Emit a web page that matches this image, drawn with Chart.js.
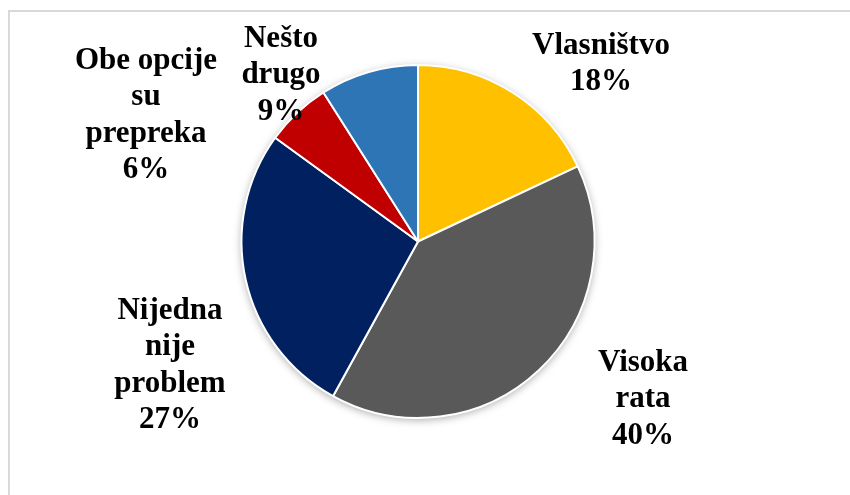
<!DOCTYPE html>
<html>
<head>
<meta charset="utf-8">
<script src="https://cdn.jsdelivr.net/npm/chart.js@4/dist/chart.umd.min.js"></script>
<style>
  body { margin: 0; background: #fff; }
  #wrap { position: relative; width: 850px; height: 495px; }
</style>
</head>
<body>
<div id="wrap"><canvas id="myChart"></canvas></div>
<script>
// data
var labels = ["Vlasništvo", "Visoka rata", "Nijedna nije problem", "Obe opcije su prepreka", "Nešto drugo"];
var values = [18, 40, 27, 6, 9];
var colors = ["#FFC000", "#595959", "#002060", "#C00000", "#2E75B6"];

// how each label is broken into lines
var labelLines = [
  ["Vlasništvo"],
  ["Visoka", "rata"],
  ["Nijedna", "nije", "problem"],
  ["Obe opcije", "su", "prepreka"],
  ["Nešto", "drugo"]
];
// where the first baseline of each label sits, relative to the pie centre
var labelOffsets = [[183, -188], [225, 129], [-248, 77], [-272, -173], [-137, -195]];
var lineGap = 36.5;

var total = values.reduce(function (a, b) { return a + b; }, 0);

var framePlugin = {
  id: "frame",
  beforeDraw: function (chart) {
    var ctx = chart.ctx;
    ctx.save();
    ctx.fillStyle = "#d9d9d9";
    ctx.fillRect(8, 10, chart.width - 8, 2);
    ctx.fillRect(8, 10, 2, chart.height - 10);
    ctx.restore();
  }
};

var shadowPlugin = {
  id: "pieShadow",
  beforeDatasetsDraw: function (chart) {
    var arc = chart.getDatasetMeta(0).data[0];
    if (!arc) return;
    var ctx = chart.ctx;
    ctx.save();
    ctx.shadowColor = "rgba(0,0,0,0.35)";
    ctx.shadowBlur = 9;
    ctx.shadowOffsetY = 2;
    ctx.fillStyle = "#fff";
    ctx.beginPath();
    ctx.arc(arc.x, arc.y, arc.outerRadius, 0, Math.PI * 2);
    ctx.fill();
    ctx.restore();
  }
};

var labelPlugin = {
  id: "sliceLabels",
  afterDatasetsDraw: function (chart) {
    var meta = chart.getDatasetMeta(0);
    var ctx = chart.ctx;
    ctx.save();
    ctx.font = "bold 31px 'Liberation Serif', 'Times New Roman', serif";
    ctx.fillStyle = "#000";
    ctx.textAlign = "center";
    ctx.textBaseline = "alphabetic";
    meta.data.forEach(function (arc, i) {
      var lines = labelLines[i].concat([Math.round(values[i] / total * 100) + "%"]);
      var x = arc.x + labelOffsets[i][0];
      var y = arc.y + labelOffsets[i][1];
      lines.forEach(function (t, j) {
        ctx.fillText(t, x, y + j * lineGap);
      });
    });
    ctx.restore();
  }
};

new Chart("myChart", {
  type: "pie",
  data: {
    labels: labels,
    datasets: [{
      data: values,
      backgroundColor: colors,
      borderColor: "#ffffff",
      borderWidth: 2
    }]
  },
  options: {
    responsive: true,
    maintainAspectRatio: false,
    animation: false,
    layout: { padding: { top: 64, bottom: 76, left: 240, right: 254 } },
    plugins: {
      legend: { display: false },
      tooltip: { enabled: false },
      title: { display: false }
    }
  },
  plugins: [framePlugin, shadowPlugin, labelPlugin]
});
</script>
</body>
</html>
